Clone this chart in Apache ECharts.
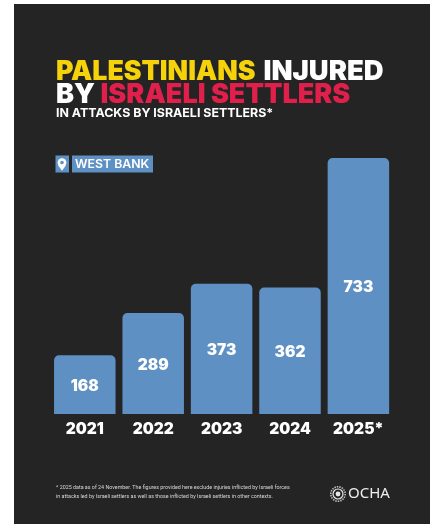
<!DOCTYPE html>
<html>
<head>
<meta charset="utf-8">
<style>html,body{margin:0;padding:0;background:#fff}#c{width:430px;height:524px}</style>
<script src="https://cdn.jsdelivr.net/npm/echarts@6/dist/echarts.min.js"></script>
</head>
<body>
<div id="c"></div>
<script>
const years = ['2021','2022','2023','2024','2025*'];
const injured = [168,289,373,362,733];
const footnote1 = '* 2025 data as of 24 November. The figures provided here exclude injuries inflicted by Israeli forces';
const footnote2 = 'in attacks led by Israeli settlers as well as those inflicted by Israeli settlers in other contexts.';
const HEAD = 'Inter';
const chart = echarts.init(document.getElementById('c'), null, {renderer:'canvas'});
chart.setOption({
  animation:false,
  backgroundColor:'#ffffff',
  grid:{left:50.6,right:37.4,top:158,bottom:110,containLabel:false},
  xAxis:{type:'category',data:years,axisLine:{show:false},axisTick:{show:false},
    axisLabel:{color:'#fff',fontFamily:HEAD,fontWeight:900,fontSize:15.5,margin:7.5,interval:0,hideOverlap:false}},
  yAxis:{type:'value',min:0,max:733,show:false,splitLine:{show:false}},
  series:[{type:'bar',data:injured,barWidth:61.5,z:5,
    itemStyle:{color:'#5f90c4',borderRadius:[5,5,0,0]},
    label:{show:true,position:'inside',offset:[0,1.5],color:'#fff',fontFamily:HEAD,fontWeight:900,fontSize:15.5}}],
  graphic:[
    {type:'rect',z:-1,shape:{x:14,y:4,width:416,height:520},style:{fill:'#242424'}},
    {type:'text',x:56,y:58,z:3,style:{text:'PALESTINIANS',fill:'#f5d20a',font:'900 26.7px '+HEAD}},
    {type:'text',x:263.5,y:58,z:3,style:{text:'INJURED',fill:'#fff',font:'900 27.4px '+HEAD}},
    {type:'text',x:56,y:81.5,z:3,style:{text:'BY',fill:'#fff',font:'900 27px '+HEAD}},
    {type:'text',x:100.5,y:81.5,z:3,style:{text:'ISRAELI SETTLERS',fill:'#e01f4b',font:'900 27px '+HEAD}},
    {type:'text',x:56,y:107.5,z:3,style:{text:'IN ATTACKS BY ISRAELI SETTLERS*',fill:'#fff',font:'700 12.4px '+HEAD}},
    {type:'rect',z:3,shape:{x:55.5,y:155.5,width:13.5,height:17},style:{fill:'#5f90c4'}},
    {type:'polygon',z:4,shape:{points:[[58,165.2],[66,165.2],[62,170.8]]},style:{fill:'#fff'}},
    {type:'circle',z:4,shape:{cx:62,cy:162.6,r:4.4},style:{fill:'#fff'}},
    {type:'circle',z:5,shape:{cx:62,cy:162.6,r:1.8},style:{fill:'#5f90c4'}},
    {type:'rect',z:3,shape:{x:72,y:155.5,width:81,height:17},style:{fill:'#5f90c4'}},
    {type:'text',x:75,y:158,z:4,style:{text:'WEST BANK',fill:'#fff',font:'600 12.3px '+HEAD}},
    {type:'text',x:56,y:485.5,z:3,style:{text:footnote1,fill:'#d8d8d8',font:'5.35px "Liberation Sans Narrow","Roboto",sans-serif'}},
    {type:'text',x:56,y:494,z:3,style:{text:footnote2,fill:'#d8d8d8',font:'5.35px "Liberation Sans Narrow","Roboto",sans-serif'}},
    {type:'circle',z:3,shape:{cx:338,cy:494,r:5},style:{fill:'none',stroke:'#e8e8e8',lineWidth:1.2}},
    {type:'circle',z:3,shape:{cx:338,cy:494,r:7.2},style:{fill:'none',stroke:'#bbbbbb',lineWidth:1.6,lineDash:[1.5,1]}},
    {type:'circle',z:3,shape:{cx:338,cy:494,r:2.4},style:{fill:'#e8e8e8'}},
    {type:'text',x:348,y:486,z:3,style:{text:'OCHA',fill:'#eeeeee',font:'400 15px "Noto Sans",sans-serif'}}
  ]
});
</script>
</body>
</html>
